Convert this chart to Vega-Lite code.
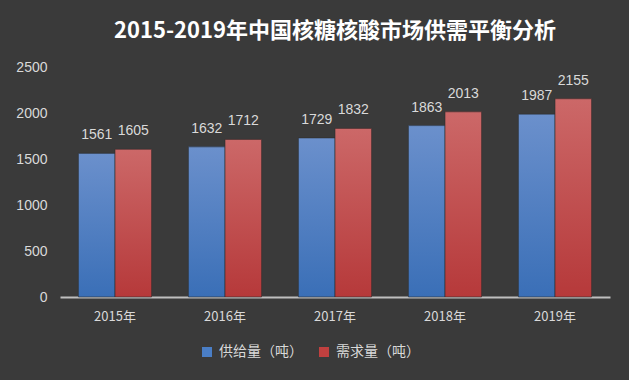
{
  "$schema": "https://vega.github.io/schema/vega-lite/v6.json",
  "width": 550,
  "height": 230,
  "autosize": {"type": "none"},
  "padding": {"left": 60, "top": 67, "right": 19, "bottom": 83},
  "background": "#3a3a3a",
  "config": {"view": {"stroke": null}},
  "title": {
    "text": "2015-2019年中国核糖核酸市场供需平衡分析",
    "font": "Noto Sans CJK SC",
    "fontSize": 22,
    "fontWeight": "bold",
    "color": "#ffffff",
    "anchor": "middle",
    "offset": 17
  },
  "data": {
    "values": [
      {"year": "2015年", "series": "供给量（吨）", "value": 1561},
      {"year": "2015年", "series": "需求量（吨）", "value": 1605},
      {"year": "2016年", "series": "供给量（吨）", "value": 1632},
      {"year": "2016年", "series": "需求量（吨）", "value": 1712},
      {"year": "2017年", "series": "供给量（吨）", "value": 1729},
      {"year": "2017年", "series": "需求量（吨）", "value": 1832},
      {"year": "2018年", "series": "供给量（吨）", "value": 1863},
      {"year": "2018年", "series": "需求量（吨）", "value": 2013},
      {"year": "2019年", "series": "供给量（吨）", "value": 1987},
      {"year": "2019年", "series": "需求量（吨）", "value": 2155}
    ]
  },
  "encoding": {
    "x": {
      "field": "year",
      "type": "nominal",
      "title": null,
      "scale": {"paddingInner": 0.336, "paddingOuter": 0.168},
      "axis": {
        "labelAngle": 0,
        "labelColor": "#d9d9d9",
        "labelFont": "Noto Sans CJK SC",
        "labelFontSize": 13,
        "labelPadding": 13,
        "ticks": false,
        "domainColor": "#bfbfbf",
        "domainWidth": 2
      }
    },
    "xOffset": {
      "field": "series",
      "type": "nominal",
      "scale": {"domain": ["供给量（吨）", "需求量（吨）"], "paddingInner": 0, "paddingOuter": 0}
    },
    "y": {
      "field": "value",
      "type": "quantitative",
      "title": null,
      "scale": {"domain": [0, 2500]},
      "axis": {
        "values": [0, 500, 1000, 1500, 2000, 2500],
        "format": "d",
        "grid": false,
        "domain": false,
        "ticks": false,
        "labelColor": "#d9d9d9",
        "labelFont": "Liberation Sans",
        "labelFontSize": 14,
        "labelPadding": 13
      }
    }
  },
  "layer": [
    {
      "mark": {"type": "bar"},
      "encoding": {
        "color": {
          "field": "series",
          "type": "nominal",
          "scale": {"domain": ["供给量（吨）", "需求量（吨）"], "range": ["#4a7ec6", "#c0403f"]},
          "legend": {
            "title": null,
            "orient": "none",
            "direction": "horizontal",
            "legendX": 140,
            "legendY": 278,
            "symbolType": "square",
            "symbolSize": 100,
            "symbolStrokeWidth": 0,
            "labelColor": "#d9d9d9",
            "labelFont": "Noto Sans CJK SC",
            "labelFontSize": 14,
            "labelOffset": 5,
            "columnPadding": 14
          }
        }
      }
    },
    {
      "transform": [{"filter": "datum.series == '供给量（吨）'"}],
      "mark": {
        "type": "bar",
        "stroke": "#2e2e2e",
        "strokeWidth": 0.6,
        "color": {
          "gradient": "linear",
          "x1": 0, "y1": 0, "x2": 0, "y2": 1,
          "stops": [
            {"offset": 0, "color": "#6b90cc"},
            {"offset": 1, "color": "#3a6fb7"}
          ]
        }
      }
    },
    {
      "transform": [{"filter": "datum.series == '需求量（吨）'"}],
      "mark": {
        "type": "bar",
        "stroke": "#2e2e2e",
        "strokeWidth": 0.6,
        "color": {
          "gradient": "linear",
          "x1": 0, "y1": 0, "x2": 0, "y2": 1,
          "stops": [
            {"offset": 0, "color": "#cc6868"},
            {"offset": 1, "color": "#b6393a"}
          ]
        }
      }
    },
    {
      "mark": {
        "type": "text",
        "baseline": "bottom",
        "dy": -11,
        "color": "#d9d9d9",
        "font": "Liberation Sans",
        "fontSize": 14
      },
      "encoding": {
        "text": {"field": "value", "type": "quantitative", "format": "d"}
      }
    }
  ]
}
